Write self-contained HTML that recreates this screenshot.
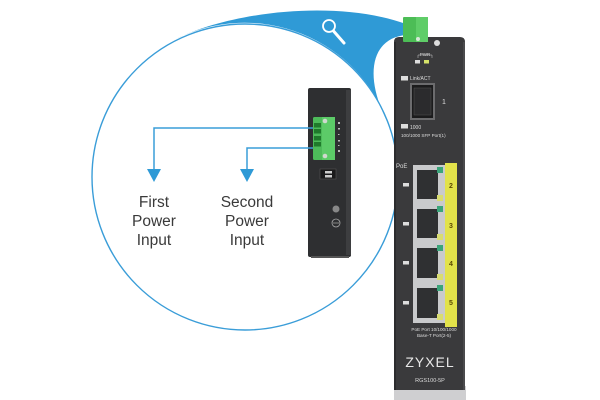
<!DOCTYPE html>
<html>
<head>
<meta charset="utf-8">
<style>
html,body{margin:0;padding:0;background:#fff;}
svg{display:block;}
text{font-family:"Liberation Sans",sans-serif;}
</style>
</head>
<body>
<svg width="600" height="400" viewBox="0 0 600 400" xmlns="http://www.w3.org/2000/svg">
  <rect width="600" height="400" fill="#ffffff"/>

  <!-- blue wedge -->
  <path d="M176,39 C235,10 340,0 406,24 L407,35 C372,37 362,75 389,125 A153,153 0 0 0 176,39 Z" fill="#2f9ad6"/>
  <!-- circle -->
  <circle cx="245" cy="177" r="153" fill="none" stroke="#3a9dd8" stroke-width="1.4"/>

  <!-- magnifier icon -->
  <circle cx="329" cy="26" r="6" fill="none" stroke="#ffffff" stroke-width="1.8"/>
  <line x1="333.5" y1="31" x2="344" y2="43" stroke="#ffffff" stroke-width="3" stroke-linecap="round"/>

  <!-- side device -->
  <rect x="308" y="88" width="43" height="169" rx="2" fill="#2e2f31"/>
  <rect x="346" y="90" width="5" height="165" fill="#3d3e40"/>
  <rect x="311" y="256" width="38" height="2" fill="#555"/>
  <!-- side connector -->
  <rect x="313" y="117" width="22" height="43" rx="1.5" fill="#4dbb5a"/>
  <rect x="322" y="117" width="13" height="43" fill="#5ccb68"/>
  <rect x="314" y="123" width="7" height="4.5" fill="#1f7a2b"/>
  <rect x="314" y="129" width="7" height="4.5" fill="#1f7a2b"/>
  <rect x="314" y="136" width="7" height="4.5" fill="#1f7a2b"/>
  <rect x="314" y="142" width="7" height="4.5" fill="#1f7a2b"/>
  <circle cx="325" cy="121" r="2.3" fill="#cfd8cf"/>
  <circle cx="325" cy="156" r="2.3" fill="#cfd8cf"/>
  <!-- side labels/dots -->
  <rect x="338" y="122" width="2" height="2" fill="#bbb"/>
  <rect x="338" y="128" width="2" height="1.5" fill="#bbb"/>
  <rect x="338" y="134" width="1.5" height="1" fill="#bbb"/>
  <rect x="338" y="140" width="2" height="1.5" fill="#bbb"/>
  <rect x="338" y="145" width="1.5" height="1" fill="#bbb"/>
  <rect x="338" y="150" width="2" height="2" fill="#bbb"/>
  <!-- dip switch -->
  <rect x="320" y="169" width="16" height="10" fill="#1a1a1b" stroke="#555" stroke-width="0.6"/>
  <rect x="325" y="171" width="7" height="2.5" fill="#ccc"/>
  <rect x="325" y="175" width="7" height="2.5" fill="#ccc"/>
  <!-- ground screws -->
  <circle cx="336" cy="209" r="3.5" fill="#888"/>
  <circle cx="336" cy="223" r="4" fill="none" stroke="#aaa" stroke-width="0.8"/>
  <line x1="333" y1="223" x2="339" y2="223" stroke="#aaa" stroke-width="0.7"/>

  <!-- connector lines -->
  <polyline points="313,128 154,128 154,170" fill="none" stroke="#3a9dd8" stroke-width="1.5"/>
  <polygon points="147,169 161,169 154,182" fill="#2f9ad6"/>
  <polyline points="313,148 247,148 247,170" fill="none" stroke="#3a9dd8" stroke-width="1.5"/>
  <polygon points="240,169 254,169 247,182" fill="#2f9ad6"/>

  <!-- labels -->
  <g fill="#3a3a3a" font-size="15.5" text-anchor="middle">
    <text x="154" y="207">First</text>
    <text x="154" y="226">Power</text>
    <text x="154" y="245">Input</text>
    <text x="247" y="207">Second</text>
    <text x="247" y="226">Power</text>
    <text x="247" y="245">Input</text>
  </g>

  <!-- main switch -->
  <rect x="394" y="386" width="72" height="14" fill="#cfcfd1"/>
  <path d="M394,42 Q394,37 399,37 L460,37 Q465,37 465,42 L465,390 L394,390 Z" fill="#3a3a3c"/>
  <rect x="394" y="42" width="2" height="348" fill="#2c2c2e"/>
  <rect x="463" y="42" width="2" height="348" fill="#4a4a4c"/>
  <!-- top connector -->
  <rect x="403" y="17" width="25" height="25" rx="1" fill="#4cbd56"/>
  <rect x="416" y="17" width="12" height="25" fill="#5fcd68"/>
  <circle cx="418" cy="39" r="2" fill="#d8e8d8"/>
  <circle cx="437" cy="43" r="3" fill="#ddd"/>
  <!-- PWR -->
  <text x="425" y="56" font-size="4.5" fill="#ddd" text-anchor="middle">PWR</text>
  <path d="M418,58 L418,55 L432,55 L432,58" fill="none" stroke="#ccc" stroke-width="0.5"/>
  <rect x="415" y="60" width="5" height="3.5" fill="#ddd"/>
  <rect x="424" y="60" width="5" height="3.5" fill="#d6e36a"/>
  <!-- Link/ACT -->
  <rect x="401" y="76" width="7" height="4.5" fill="#ddd"/>
  <text x="410" y="80" font-size="5" fill="#ddd">Link/ACT</text>
  <!-- SFP port -->
  <rect x="410" y="83" width="25" height="37" fill="#6c6c6e"/>
  <rect x="412" y="85" width="21" height="33" fill="#1b1b1c"/>
  <rect x="414" y="88" width="17" height="27" fill="#2b2b2d" stroke="#555" stroke-width="0.5"/>
  <text x="442" y="104" font-size="7" fill="#ddd">1</text>
  <rect x="401" y="124" width="7" height="4.5" fill="#ddd"/>
  <text x="410" y="129" font-size="5" fill="#ddd">1000</text>
  <text x="401" y="137" font-size="4.6" fill="#ddd">100/1000 SFP Port(1)</text>
  <!-- PoE -->
  <text x="396" y="168" font-size="6" fill="#ddd">PoE</text>
  <!-- yellow strip -->
  <rect x="445" y="163" width="12" height="164" fill="#e2e24a"/>
  <!-- ports -->
  <g>
    <rect x="413" y="165" width="32" height="39" fill="#c9cacc"/>
    <rect x="417" y="170" width="21" height="29" fill="#2f3032"/>
    <rect x="437" y="167" width="6" height="6" fill="#3aa47a"/>
    <rect x="437" y="195" width="6" height="6" fill="#d8dc70"/>
    <rect x="413" y="204" width="32" height="39" fill="#c9cacc"/>
    <rect x="417" y="209" width="21" height="29" fill="#2f3032"/>
    <rect x="437" y="206" width="6" height="6" fill="#3aa47a"/>
    <rect x="437" y="234" width="6" height="6" fill="#d8dc70"/>
    <rect x="413" y="243" width="32" height="40" fill="#c9cacc"/>
    <rect x="417" y="248" width="21" height="30" fill="#2f3032"/>
    <rect x="437" y="245" width="6" height="6" fill="#3aa47a"/>
    <rect x="437" y="274" width="6" height="6" fill="#d8dc70"/>
    <rect x="413" y="283" width="32" height="40" fill="#c9cacc"/>
    <rect x="417" y="288" width="21" height="30" fill="#2f3032"/>
    <rect x="437" y="285" width="6" height="6" fill="#3aa47a"/>
    <rect x="437" y="314" width="6" height="6" fill="#d8dc70"/>
  </g>
  <g font-size="7" fill="#5a4a00" font-weight="bold" text-anchor="middle">
    <text x="451" y="188">2</text>
    <text x="451" y="228">3</text>
    <text x="451" y="266">4</text>
    <text x="451" y="305">5</text>
  </g>
  <!-- LEDs -->
  <rect x="403" y="183" width="6" height="3.5" fill="#ddd"/>
  <rect x="403" y="222" width="6" height="3.5" fill="#ddd"/>
  <rect x="403" y="261" width="6" height="3.5" fill="#ddd"/>
  <rect x="403" y="301" width="6" height="3.5" fill="#ddd"/>
  <!-- labels -->
  <text x="434" y="331" font-size="4.6" fill="#ddd" text-anchor="middle">PoE Port 10/100/1000</text>
  <text x="434" y="337" font-size="4.6" fill="#ddd" text-anchor="middle">Base-T Port(2-5)</text>
  <text x="430" y="367" font-size="14" fill="#e8e8e8" text-anchor="middle" letter-spacing="1">ZYXEL</text>
  <text x="430" y="382" font-size="5.5" fill="#ddd" text-anchor="middle">RGS100-5P</text>
</svg>
</body>
</html>
